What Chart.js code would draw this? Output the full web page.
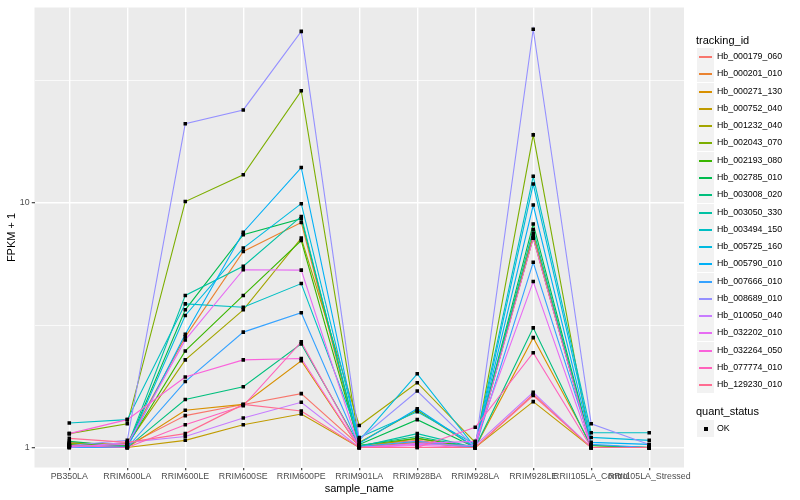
<!DOCTYPE html>
<html>
<head>
<meta charset="utf-8">
<title>FPKM + 1 by sample_name</title>
<script src="https://cdn.jsdelivr.net/npm/chart.js@4"></script>
<style>
  body { margin: 0; background: #fff; font-family: "Liberation Sans", Arial, sans-serif; }
  #wrap { position: relative; width: 800px; height: 500px; }
  #legend { position: absolute; left: 696px; top: 0; width: 104px; }
  .lg-title { position: absolute; left: 0; font-size: 11px; color: #000; line-height: 13px; white-space: nowrap; }
  .lg-row { position: absolute; left: 0; height: 17px; width: 104px; }
  .lg-key { position: absolute; left: 1px; top: 0; width: 17px; height: 17px; background: #F2F2F2; }
  .lg-line { position: absolute; left: 2px; width: 13px; top: 8px; height: 1.5px; }
  .lg-dot { position: absolute; left: 7px; top: 7px; width: 4px; height: 4px; background: #000; }
  .lg-text { position: absolute; left: 21px; top: 0; line-height: 17px; font-size: 8.8px; color: #000; white-space: nowrap; }
</style>
</head>
<body>
<div id="wrap">
  <canvas id="chart" width="800" height="500"></canvas>
  <div id="legend"></div>
</div>
<script>
// Samples on the x axis
const samples = ['PB350LA', 'RRIM600LA', 'RRIM600LE', 'RRIM600SE', 'RRIM600PE', 'RRIM901LA',
  'RRIM928BA', 'RRIM928LA', 'RRIM928LE', 'RRII105LA_Control', 'RRII105LA_Stressed'];

const trackingIds = ['Hb_000179_060', 'Hb_000201_010', 'Hb_000271_130', 'Hb_000752_040', 'Hb_001232_040',
  'Hb_002043_070', 'Hb_002193_080', 'Hb_002785_010', 'Hb_003008_020', 'Hb_003050_330',
  'Hb_003494_150', 'Hb_005725_160', 'Hb_005790_010', 'Hb_007666_010', 'Hb_008689_010',
  'Hb_010050_040', 'Hb_032202_010', 'Hb_032264_050', 'Hb_077774_010', 'Hb_129230_010'];

// ggplot default hue palette, 20 levels
const seriesColors = ['#F8766D', '#EA8331', '#D89000', '#C09B00', '#A3A500', '#7CAE00', '#39B600',
  '#00BB4E', '#00BF7D', '#00C1A3', '#00BFC4', '#00BAE0', '#00B0F6', '#35A2FF', '#9590FF',
  '#C77CFF', '#E76BF3', '#FA62DB', '#FF62BC', '#FF6C91'];

// FPKM + 1 per sample (same order as samples)
const hb000179_060 = [1.05, 1.02, 1.35, 1.50, 1.66, 1.02, 1.07, 1.00, 1.65, 1.00, 1.00];
const hb000201_010 = [1.02, 1.04, 2.83, 6.32, 8.30, 1.00, 1.05, 1.00, 7.50, 1.00, 1.00];
const hb000271_130 = [1.03, 1.00, 1.42, 1.50, 2.26, 1.00, 1.09, 1.00, 2.81, 1.02, 1.00];
const hb000752_040 = [1.00, 1.00, 1.07, 1.24, 1.37, 1.00, 1.05, 1.00, 1.54, 1.00, 1.00];
const hb001232_040 = [1.04, 1.03, 2.28, 3.65, 7.16, 1.23, 1.84, 1.05, 7.16, 1.02, 1.00];
const hb002043_070 = [1.14, 1.25, 10.1, 13.0, 28.6, 1.05, 1.42, 1.00, 18.9, 1.00, 1.00];
const hb002193_080 = [1.03, 1.02, 2.48, 4.18, 7.00, 1.02, 1.09, 1.00, 7.27, 1.00, 1.00];
const hb002785_010 = [1.06, 1.01, 3.65, 7.40, 8.60, 1.03, 1.30, 1.00, 8.18, 1.02, 1.00];
const hb003008_020 = [1.02, 1.00, 1.57, 1.77, 2.65, 1.02, 1.11, 1.00, 3.08, 1.00, 1.00];
const hb003050_330 = [1.02, 1.01, 4.18, 5.50, 8.78, 1.01, 1.14, 1.00, 7.76, 1.00, 1.00];
const hb003494_150 = [1.26, 1.30, 3.86, 3.74, 4.67, 1.10, 1.40, 1.03, 12.8, 1.15, 1.15];
const hb005725_160 = [1.02, 1.00, 3.46, 6.52, 9.90, 1.07, 2.00, 1.00, 11.9, 1.10, 1.07];
const hb005790_010 = [1.01, 1.00, 2.90, 7.57, 13.9, 1.04, 1.44, 1.00, 9.77, 1.05, 1.03];
const hb007666_010 = [1.00, 1.00, 1.86, 2.96, 3.55, 1.01, 1.06, 1.00, 5.71, 1.03, 1.00];
const hb008689_010 = [1.02, 1.07, 21.0, 23.9, 50.0, 1.08, 1.70, 1.00, 51.0, 1.25, 1.03];
const hb010050_040 = [1.00, 1.05, 1.11, 1.32, 1.53, 1.00, 1.03, 1.02, 1.68, 1.00, 1.00];
const hb032202_010 = [1.01, 1.03, 2.75, 5.32, 5.30, 1.00, 1.04, 1.06, 4.76, 1.00, 1.00];
const hb032264_050 = [1.14, 1.30, 1.94, 2.28, 2.31, 1.00, 1.02, 1.00, 7.16, 1.00, 1.00];
const hb077774_010 = [1.02, 1.00, 1.24, 1.48, 2.70, 1.00, 1.00, 1.21, 2.44, 1.00, 1.00];
const hb129230_010 = [1.09, 1.05, 1.14, 1.50, 1.41, 1.00, 1.00, 1.00, 1.63, 1.00, 1.00];

const seriesValues = [hb000179_060, hb000201_010, hb000271_130, hb000752_040, hb001232_040,
  hb002043_070, hb002193_080, hb002785_010, hb003008_020, hb003050_330,
  hb003494_150, hb005725_160, hb005790_010, hb007666_010, hb008689_010,
  hb010050_040, hb032202_010, hb032264_050, hb077774_010, hb129230_010];

// y axis (log10): labelled breaks and minor breaks halfway in log space
const yTickValues = [1, 10];
const yTickLabels = ['1', '10'];
const yMinorValues = [Math.pow(10, 0.5), Math.pow(10, 1.5)];
const yGridValues = [...yTickValues, ...yMinorValues].sort((a, b) => a - b);

const FONT = '"Liberation Sans", Arial, sans-serif';
Chart.defaults.font.family = FONT;

// grey panel behind the grid, ggplot style
const panelBackground = {
  id: 'panelBackground',
  beforeDraw(chart) {
    const { ctx, chartArea: a } = chart;
    ctx.save();
    ctx.fillStyle = '#EBEBEB';
    ctx.fillRect(a.left, a.top, a.right - a.left, a.bottom - a.top);
    ctx.restore();
  }
};

const lineDatasets = trackingIds.map((id, i) => ({
  label: id,
  data: seriesValues[i].map((v, j) => ({ x: j, y: v })),
  borderColor: seriesColors[i],
  borderWidth: 1.1,
  pointRadius: 0,
  pointHoverRadius: 0,
  fill: false,
  tension: 0,
  order: trackingIds.length - i  // later series on top, like ggplot
}));

// quant_status = OK for every point, drawn above all lines
const pointDataset = {
  label: 'OK',
  data: seriesValues.flatMap(vals => vals.map((v, j) => ({ x: j, y: v }))),
  showLine: false,
  pointStyle: 'rect',
  pointRadius: 2.5,
  pointBackgroundColor: '#000',
  pointBorderWidth: 0,
  pointHoverRadius: 0,
  order: -1
};

const isMajor = v => yTickValues.indexOf(v) >= 0;

new Chart(document.getElementById('chart'), {
  type: 'line',
  data: { datasets: [...lineDatasets, pointDataset] },
  plugins: [panelBackground],
  options: {
    responsive: false,
    animation: false,
    events: [],
    layout: { padding: { left: 0, top: 5.5, right: 116, bottom: 0 } },
    plugins: { legend: { display: false }, tooltip: { enabled: false } },
    scales: {
      x: {
        type: 'linear',
        min: -0.6,
        max: samples.length - 0.4,
        afterBuildTicks: s => { s.ticks = samples.map((_, i) => ({ value: i })); },
        afterFit: s => { s.height = 32.5; },
        border: { display: false },
        grid: { color: '#FFFFFF', lineWidth: 1.4, tickLength: 2.75, tickColor: '#333333', tickWidth: 1.1 },
        ticks: {
          callback: v => samples[v],
          autoSkip: false, maxRotation: 0, minRotation: 0,
          padding: 1, color: '#4D4D4D', font: { size: 8.8 }
        },
        title: { display: true, text: 'sample_name', color: '#000', font: { size: 11 }, padding: { top: 0, bottom: 4.4 } }
      },
      y: {
        type: 'logarithmic',
        min: 0.829,
        max: 62.6,
        afterBuildTicks: s => { s.ticks = yGridValues.map(v => ({ value: v })); },
        afterFit: s => { s.width = 34.5; },
        border: { display: false },
        grid: {
          color: '#FFFFFF',
          lineWidth: c => isMajor(c.tick.value) ? 1.4 : 0.7,
          tickLength: 2.75,
          tickWidth: 1.1,
          tickColor: c => isMajor(c.tick.value) ? '#333333' : 'rgba(0,0,0,0)'
        },
        ticks: {
          callback: v => isMajor(v) ? yTickLabels[yTickValues.indexOf(v)] : '',
          autoSkip: false, padding: 2.2, color: '#4D4D4D', font: { size: 8.8 }
        },
        title: { display: true, text: 'FPKM + 1', color: '#000', font: { size: 11 }, padding: { top: 5, bottom: 0 } }
      }
    }
  }
});

// ggplot-like legends on the right
function buildLegend() {
  const box = document.getElementById('legend');
  const KEY = 17.28;
  let html = '<div class="lg-title" style="top:34px">tracking_id</div>';
  trackingIds.forEach((id, i) => {
    const top = Math.round(48 + i * KEY);
    html += `<div class="lg-row" style="top:${top}px">
      <div class="lg-key"><div class="lg-line" style="background:${seriesColors[i]}"></div></div>
      <div class="lg-text">${id}</div></div>`;
  });
  html += '<div class="lg-title" style="top:405px">quant_status</div>';
  html += `<div class="lg-row" style="top:420px">
    <div class="lg-key"><div class="lg-dot"></div></div>
    <div class="lg-text">OK</div></div>`;
  box.innerHTML = html;
}
buildLegend();
</script>
</body>
</html>
